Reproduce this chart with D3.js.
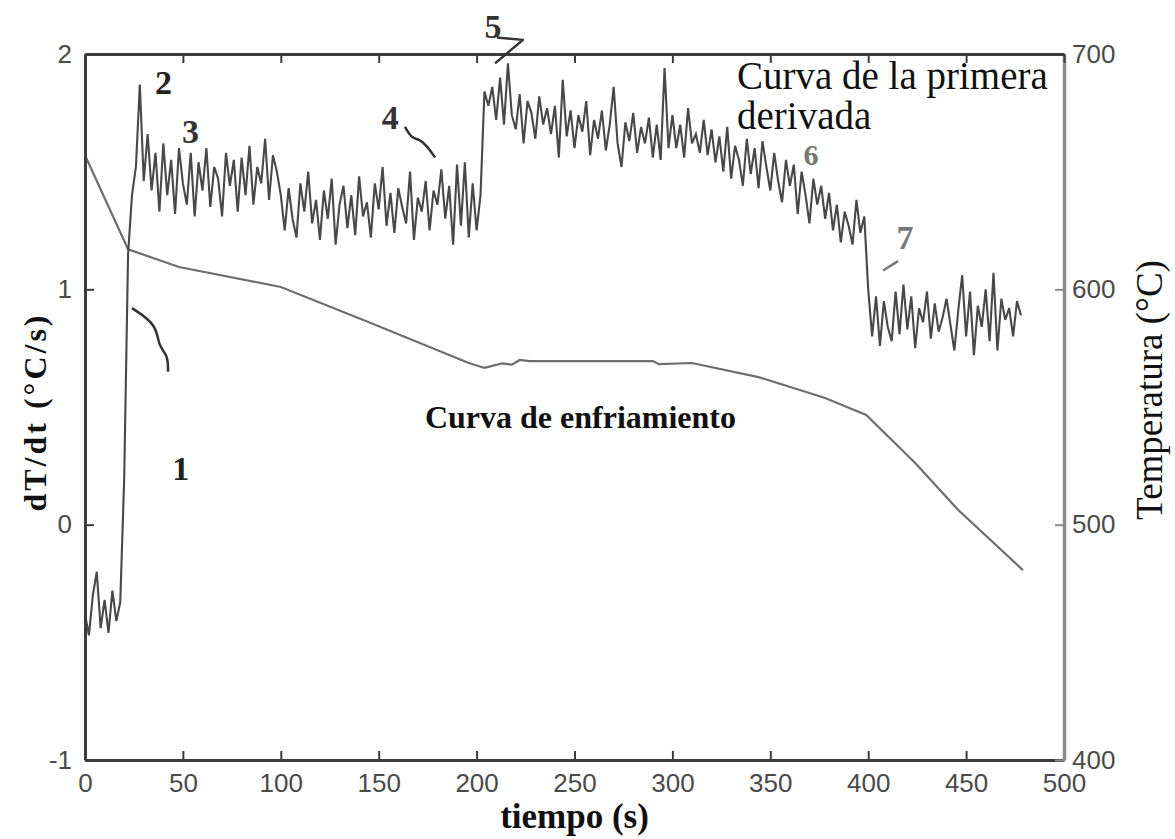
<!DOCTYPE html>
<html>
<head>
<meta charset="utf-8">
<script src="https://cdn.jsdelivr.net/npm/d3@7"></script>
<style>
body{margin:0;background:#fff}
svg{display:block}
</style>
</head>
<body>
<svg id="chart" width="1175" height="839"></svg>
<script>
// first derivative dT/dt (left axis), one value every 2 s from t=0
var derivStep = 2;
var derivValues = [
  -0.38,-0.47,-0.30,-0.20,-0.44,-0.32,-0.46,-0.28,-0.41,-0.33,   // 0-18
  0.19,1.15,1.40,1.52,1.87,1.46,1.66,1.42,1.58,1.33,             // 20-38
  1.62,1.40,1.55,1.32,1.60,1.45,1.36,1.58,1.31,1.54,             // 40-58
  1.42,1.60,1.35,1.52,1.47,1.31,1.58,1.44,1.55,1.33,             // 60-78
  1.56,1.40,1.61,1.36,1.52,1.45,1.64,1.38,1.57,1.50,             // 80-98
  1.40,1.25,1.43,1.30,1.22,1.45,1.33,1.50,1.28,1.38,             // 100-118
  1.21,1.42,1.30,1.47,1.19,1.36,1.44,1.26,1.40,1.23,             // 120-138
  1.48,1.31,1.37,1.22,1.45,1.34,1.52,1.27,1.41,1.24,             // 140-158
  1.43,1.35,1.28,1.50,1.21,1.39,1.33,1.46,1.25,1.42,             // 160-178
  1.36,1.51,1.30,1.44,1.19,1.53,1.27,1.54,1.22,1.45,             // 180-198
  1.25,1.40,1.84,1.78,1.86,1.72,1.90,1.70,1.96,1.74,             // 200-218
  1.68,1.83,1.62,1.80,1.75,1.64,1.82,1.70,1.77,1.66,             // 220-238
  1.78,1.56,1.89,1.65,1.76,1.60,1.74,1.67,1.80,1.57,             // 240-258
  1.72,1.64,1.76,1.59,1.70,1.86,1.62,1.52,1.71,1.63,             // 260-278
  1.75,1.58,1.69,1.62,1.73,1.56,1.70,1.55,1.94,1.60,             // 280-298
  1.74,1.60,1.70,1.56,1.77,1.62,1.66,1.58,1.72,1.57,             // 300-318
  1.68,1.54,1.65,1.50,1.69,1.47,1.61,1.55,1.44,1.64,             // 320-338
  1.49,1.60,1.43,1.63,1.52,1.42,1.58,1.46,1.37,1.55,             // 340-358
  1.44,1.53,1.32,1.50,1.40,1.28,1.47,1.36,1.44,1.30,             // 360-378
  1.41,1.25,1.36,1.20,1.33,1.27,1.19,1.38,1.24,1.31,             // 380-398
  1.00,0.80,0.97,0.76,0.95,0.84,0.78,0.99,0.81,1.02,             // 400-418
  0.83,0.97,0.75,0.92,0.86,0.99,0.79,0.94,0.82,0.88,             // 420-438
  0.96,0.85,0.74,0.91,1.06,0.80,0.99,0.72,0.93,0.84,             // 440-458
  1.00,0.78,1.07,0.74,0.96,0.87,0.92,0.80,0.95,0.89              // 460-478
];

// cooling curve (right axis)
var coolTime = [0,22,48,100,145,196,204,213,218,222,227,290,293,310,344,378,399,424,446,479];
var coolTemp = [657,617,609.5,601,586,568.7,566.6,568.5,568,570,569.5,569.5,568.2,568.7,562.7,553.8,546.6,526.2,506.2,480.7];

var xTicks = [0,50,100,150,200,250,300,350,400,450,500];
var leftTicks = [-1,0,1,2];
var rightTicks = [400,500,600,700];

// numbered marks: [label, t, dT/dt, colour, size]
var marks = [
  ["1",44.5,0.19,"#222",34],
  ["2",35.8,1.83,"#222",34],
  ["3",49.5,1.62,"#333",34],
  ["4",151.5,1.68,"#333",34],
  ["5",204,2.07,"#333",34],
  ["6",367,1.53,"#777",30],
  ["7",414.5,1.17,"#777",34]
];
// little leader strokes, in data units
var leader1 = [[24,0.92],[36.8,0.85],[37.3,0.76],[42.4,0.72],[42.4,0.65]];
var leader4 = [[163.4,1.69],[167,1.64],[170.5,1.64],[174.7,1.61],[178.8,1.56]];
var leader5 = [[210.4,2.07],[223.7,2.06],[209.4,1.96]];
var leader7 = [[407.6,1.08],[415.2,1.12]];

var svg = d3.select("#chart");

var x = d3.scaleLinear().domain([0,500]).range([85,1064]);
var yL = d3.scaleLinear().domain([-1,2]).range([760,54]);
var yR = d3.scaleLinear().domain([400,700]).range([760,54]);

var deriv = derivValues.map(function(v,i){ return {t:i*derivStep, v:v}; });
var cool = coolTime.map(function(t,i){ return {t:t, v:coolTemp[i]}; });

// curves
svg.append("path")
  .datum(cool)
  .attr("fill","none")
  .attr("stroke","#6e6e6e")
  .attr("stroke-width",2.2)
  .attr("d", d3.line().x(d=>x(d.t)).y(d=>yR(d.v)));

svg.append("path")
  .datum(deriv)
  .attr("fill","none")
  .attr("stroke","#484848")
  .attr("stroke-width",2.1)
  .attr("d", d3.line().x(d=>x(d.t)).y(d=>yL(d.v)));

// axes, ticks pointing inward
var bottom = svg.append("g").attr("transform","translate(0,760)")
  .call(d3.axisBottom(x).tickValues(xTicks).tickSizeInner(-9).tickSizeOuter(0).tickPadding(14));
var left = svg.append("g").attr("transform","translate(85,0)")
  .call(d3.axisLeft(yL).tickValues(leftTicks).tickSizeInner(-9).tickSizeOuter(0).tickPadding(13));
var right = svg.append("g").attr("transform","translate(1064,0)")
  .call(d3.axisRight(yR).tickValues(rightTicks).tickSizeInner(-9).tickSizeOuter(0).tickPadding(8));
var top_ = svg.append("g").attr("transform","translate(0,54)")
  .call(d3.axisTop(x).tickValues(xTicks).tickSizeInner(-9).tickSizeOuter(0).tickFormat(""));

[bottom,left,right].forEach(function(g){
  g.selectAll(".tick text")
    .attr("font-family","'Liberation Sans', Arial, sans-serif")
    .attr("font-size",26)
    .attr("fill","#4a4a4a")
    .text(function(d){ return d < 0 ? "-" + Math.abs(d) : d; });
});

[bottom,top_,left].forEach(function(g){
  g.select(".domain").attr("stroke","#3c3c3c").attr("stroke-width",3);
  g.selectAll(".tick line").attr("stroke","#3c3c3c").attr("stroke-width",2);
});
right.select(".domain").attr("stroke","#8c8c8c").attr("stroke-width",3.5);
right.selectAll(".tick line").attr("stroke","#8c8c8c").attr("stroke-width",2);

// axis titles
svg.append("text")
  .attr("transform","translate(46,412) rotate(-90)")
  .attr("text-anchor","middle")
  .attr("font-family","'Liberation Serif', serif")
  .attr("font-weight","bold")
  .attr("font-size",32)
  .attr("letter-spacing",3)
  .attr("fill","#111")
  .text("dT/dt (°C/s)");

svg.append("text")
  .attr("transform","translate(1162,390) rotate(-90)")
  .attr("text-anchor","middle")
  .attr("font-family","'Liberation Serif', serif")
  .attr("font-size",37)
  .attr("fill","#111")
  .text("Temperatura (°C)");

svg.append("text")
  .attr("x",(x(0)+x(500))/2)
  .attr("y",828)
  .attr("text-anchor","middle")
  .attr("font-family","'Liberation Serif', serif")
  .attr("font-weight","bold")
  .attr("font-size",35)
  .attr("fill","#111")
  .text("tiempo (s)");

// curve names
var derivName = svg.append("text")
  .attr("font-family","'Liberation Serif', serif")
  .attr("font-size",39)
  .attr("fill","#111");
derivName.append("tspan")
  .attr("x",x(333)).attr("y",yL(1.85))
  .text("Curva de la primera");
derivName.append("tspan")
  .attr("x",x(333)).attr("dy",40)
  .text("derivada");

svg.append("text")
  .attr("x",x(173.6)).attr("y",yL(0.41))
  .attr("font-family","'Liberation Serif', serif")
  .attr("font-weight","bold")
  .attr("font-size",32)
  .attr("fill","#111")
  .text("Curva de enfriamiento");

// numbers and their leaders
svg.selectAll(".mark")
  .data(marks)
  .enter().append("text")
  .attr("class","mark")
  .attr("x",d=>x(d[1])).attr("y",d=>yL(d[2]))
  .attr("font-family","'Liberation Serif', serif")
  .attr("font-weight","bold")
  .attr("font-size",d=>d[4])
  .attr("fill",d=>d[3])
  .text(d=>d[0]);

var curvy = d3.line().x(d=>x(d[0])).y(d=>yL(d[1])).curve(d3.curveBasis);
var straight = d3.line().x(d=>x(d[0])).y(d=>yL(d[1]));
[[leader1,"#333",curvy],[leader4,"#333",curvy],[leader5,"#333",straight],[leader7,"#777",straight]].forEach(function(l){
  svg.append("path")
    .datum(l[0])
    .attr("fill","none")
    .attr("stroke",l[1])
    .attr("stroke-width",2.5)
    .attr("stroke-linejoin","round")
    .attr("d",l[2]);
});
</script>
</body>
</html>
